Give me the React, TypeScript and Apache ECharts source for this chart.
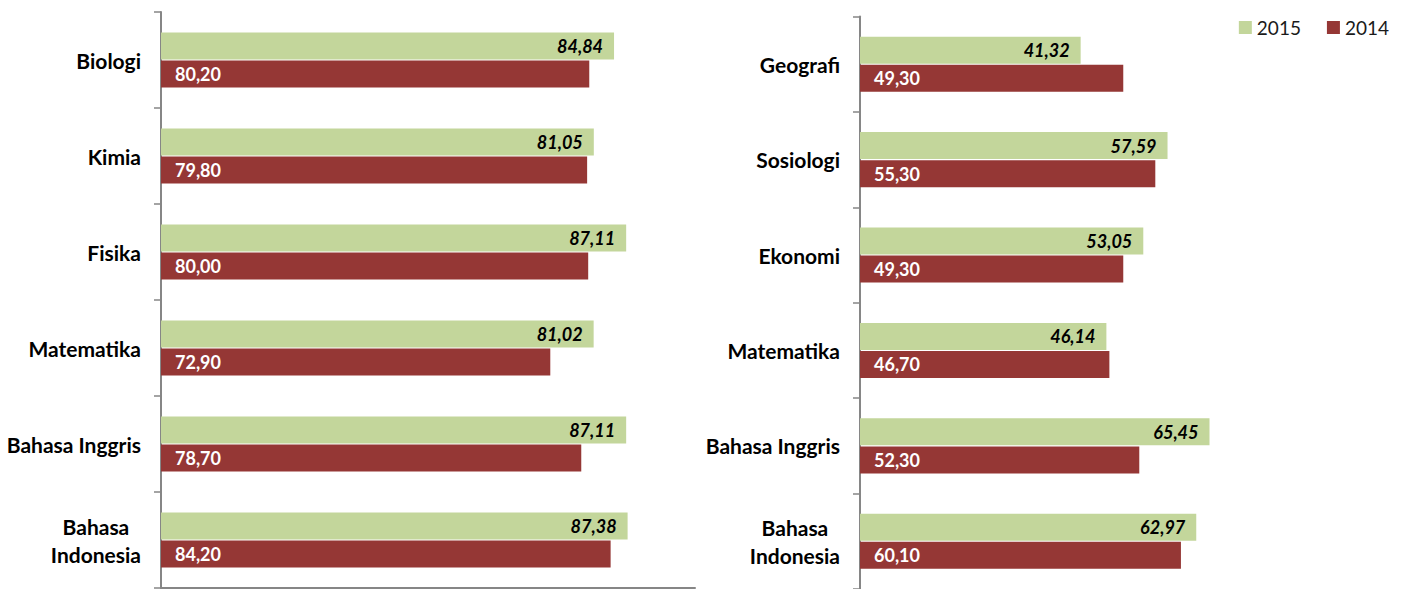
import React, { useEffect, useRef } from "react";
import * as echarts from "echarts";

const leftCategories = ["Biologi", "Kimia", "Fisika", "Matematika", "Bahasa Inggris", "Bahasa Indonesia"];
const left2015 = [84.84, 81.05, 87.11, 81.02, 87.11, 87.38];
const left2014 = [80.2, 79.8, 80.0, 72.9, 78.7, 84.2];

const rightCategories = ["Geografi", "Sosiologi", "Ekonomi", "Matematika", "Bahasa Inggris", "Bahasa Indonesia"];
const right2015 = [41.32, 57.59, 53.05, 46.14, 65.45, 62.97];
const right2014 = [49.3, 55.3, 49.3, 46.7, 52.3, 60.1];

const seriesNames = ["2015", "2014"];
const valueMin = 0;
const valueMax = 100;

const GREEN = "#C3D69B";
const RED = "#953735";
const AXIS = "#868686";
const FONT = "Lato, 'Open Sans', sans-serif";

const fmt = (v: number) => v.toFixed(2).replace(".", ",");
const catFmt = (v: string) =>
  (v === "Bahasa Indonesia" ? ["Bahasa", "Indonesia"] : [v]).map((l) => `{c|${l}}`).join("\n");

export default function App() {
  const ref = useRef<HTMLDivElement>(null);
  useEffect(() => {
    if (!ref.current) return;
    const chart = echarts.init(ref.current, undefined, { renderer: "svg" });
    const yAxisBase = (data: string[], gridIndex: number) => ({
      type: "category",
      gridIndex,
      data,
      inverse: true,
      axisLine: { show: true, lineStyle: { color: AXIS, width: 2 } },
      axisTick: { show: true, length: 7, lineStyle: { color: AXIS, width: 1.5 } },
      axisLabel: {
        margin: 20,
        formatter: catFmt,
        rich: {
          c: {
            fontFamily: FONT,
            fontSize: 21,
            fontWeight: "bold",
            color: "#000",
            align: "center",
            lineHeight: 28,
          },
        },
      },
      splitLine: { show: false },
    });
    const xAxisBase = (gridIndex: number, showLine: boolean) => ({
      type: "value",
      gridIndex,
      min: valueMin,
      max: valueMax,
      axisLine: { show: showLine, lineStyle: { color: AXIS, width: 2 } },
      axisTick: { show: false },
      axisLabel: { show: false },
      splitLine: { show: false },
    });
    const barSeries = (name: string, data: number[], idx: number, is2015: boolean) => ({
      type: "bar",
      name,
      data,
      xAxisIndex: idx,
      yAxisIndex: idx,
      barWidth: 27,
      barGap: "4%",
      itemStyle: { color: is2015 ? GREEN : RED },
      label: is2015
        ? {
            show: true,
            position: "insideRight",
            distance: 11,
            formatter: (p: any) => fmt(p.value),
            fontFamily: FONT,
            fontSize: 18,
            fontWeight: "bold",
            fontStyle: "italic",
            color: "#000",
          }
        : {
            show: true,
            position: "insideLeft",
            distance: 14,
            formatter: (p: any) => fmt(p.value),
            fontFamily: FONT,
            fontSize: 18,
            fontWeight: "bold",
            color: "#fff",
          },
    });
    chart.setOption({
      animation: false,
      legend: {
        data: seriesNames,
        right: 16,
        top: 13,
        itemWidth: 13,
        itemHeight: 13,
        itemGap: 26,
        icon: "rect",
        textStyle: { fontFamily: FONT, fontSize: 19, color: "#1a1a1a" },
      },
      grid: [
        { left: 161, top: 12, width: 534, height: 576 },
        { left: 860, top: 16.5, width: 534, height: 576 },
      ],
      xAxis: [xAxisBase(0, true), xAxisBase(1, false)],
      yAxis: [yAxisBase(leftCategories, 0), yAxisBase(rightCategories, 1)],
      series: [
        barSeries(seriesNames[0], left2015, 0, true),
        barSeries(seriesNames[1], left2014, 0, false),
        barSeries(seriesNames[0], right2015, 1, true),
        barSeries(seriesNames[1], right2014, 1, false),
      ],
    });
    return () => chart.dispose();
  }, []);
  return (
    <div
      ref={ref}
      style={{ position: "absolute", left: 0, top: 0, width: 1410, height: 589 }}
    />
  );
}
